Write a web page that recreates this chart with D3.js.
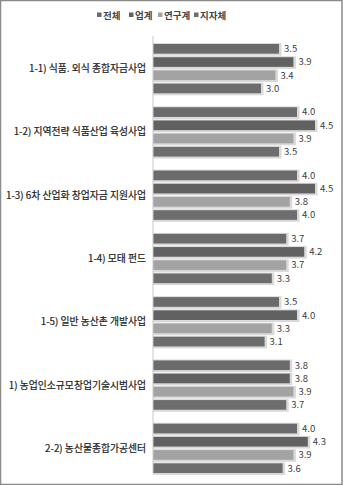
<!DOCTYPE html>
<html>
<head>
<meta charset="utf-8">
<script src="https://cdn.jsdelivr.net/npm/d3@7"></script>
<style>
  body { margin: 0; background: #fff; }
  svg { display: block; font-family: "Noto Sans CJK KR", "Noto Sans", sans-serif; }
</style>
</head>
<body>
<div id="chart"></div>
<script>
// categories (top to bottom) and series
const categories = [
  '1-1) 식품. 외식 종합자금사업',
  '1-2) 지역전략 식품산업 육성사업',
  '1-3) 6차 산업화 창업자금 지원사업',
  '1-4) 모태 펀드',
  '1-5) 일반 농산촌 개발사업',
  '1) 농업인소규모창업기술시범사업',
  '2-2) 농산물종합가공센터'
];
const seriesNames = ['전체', '업계', '연구계', '지자체'];
const total    = [3.5, 4.0, 4.0, 3.7, 3.5, 3.8, 4.0];
const industry = [3.9, 4.5, 4.5, 4.2, 4.0, 3.8, 4.3];
const research = [3.4, 3.9, 3.8, 3.7, 3.3, 3.9, 3.9];
const local    = [3.0, 3.5, 4.0, 3.3, 3.1, 3.7, 3.6];
const seriesValues = [total, industry, research, local];
const colors = ['#6b6b6b', '#616161', '#a3a3a3', '#6d6d6d'];

const width = 343, height = 485;
const svg = d3.select('#chart').append('svg')
  .attr('width', width).attr('height', height);

// frame
svg.append('rect')
  .attr('x', 0.5).attr('y', 0.5)
  .attr('width', width - 1.5).attr('height', height - 1)
  .attr('fill', 'none').attr('stroke', '#8a8a8a').attr('stroke-width', 1.5);

const x = d3.scaleLinear().domain([0, 5]).range([153, 333]);
const y = d3.scaleBand().domain(categories).range([36, 479]).paddingInner(0).paddingOuter(0);
const inner = d3.scaleBand().domain(seriesNames).range([8, y.bandwidth() - 6]).paddingInner(0.27);

const rows = [];
categories.forEach((c, i) => {
  seriesNames.forEach((s, j) => {
    rows.push({ cat: c, series: s, value: seriesValues[j][i], color: colors[j] });
  });
});

const g = svg.append('g');

// bar shadows
g.selectAll('rect.shadow')
  .data(rows)
  .join('rect')
  .attr('class', 'shadow')
  .attr('x', x(0))
  .attr('y', d => y(d.cat) + inner(d.series) - 1)
  .attr('width', d => x(d.value) - x(0) + 2.5)
  .attr('height', inner.bandwidth() + 3)
  .attr('fill', '#d9d9d9');

g.selectAll('rect.bar')
  .data(rows)
  .join('rect')
  .attr('class', 'bar')
  .attr('x', x(0))
  .attr('y', d => y(d.cat) + inner(d.series))
  .attr('width', d => x(d.value) - x(0))
  .attr('height', inner.bandwidth())
  .attr('fill', d => d.color);

// value labels
g.selectAll('text.val')
  .data(rows)
  .join('text')
  .attr('class', 'val')
  .attr('x', d => x(d.value) + 5)
  .attr('y', d => y(d.cat) + inner(d.series) + inner.bandwidth() / 2)
  .attr('dy', '0.35em')
  .attr('font-size', 9.5)
  .attr('fill', '#404040')
  .text(d => d.value.toFixed(1));

// axis line
svg.append('line')
  .attr('x1', x(0)).attr('x2', x(0))
  .attr('y1', 36).attr('y2', 473)
  .attr('stroke', '#c8c8c8');

// category labels
svg.selectAll('text.cat')
  .data(categories)
  .join('text')
  .attr('class', 'cat')
  .attr('x', 146)
  .attr('y', d => y(d) + 8 + (y.bandwidth() - 14) / 2)
  .attr('dy', '0.35em')
  .attr('text-anchor', 'end')
  .attr('font-size', 9.8)
  .attr('fill', '#222')
  .attr('stroke', '#222')
  .attr('stroke-width', 0.2)
  .text(d => d);

// legend
const legendX = [97, 129, 158, 194];
const legend = svg.append('g');
seriesNames.forEach((s, i) => {
  legend.append('rect')
    .attr('x', legendX[i]).attr('y', 12.5)
    .attr('width', 4.5).attr('height', 4.5)
    .attr('fill', colors[i]);
  legend.append('text')
    .attr('x', legendX[i] + 6).attr('y', 15.5)
    .attr('dy', '0.35em')
    .attr('font-size', 9.5)
    .attr('font-weight', 'bold')
    .attr('fill', '#444')
    .text(s);
});
</script>
</body>
</html>
